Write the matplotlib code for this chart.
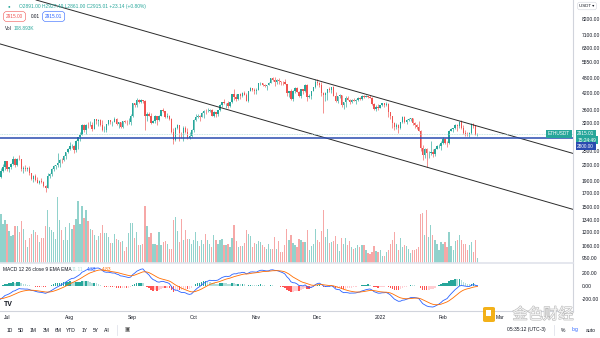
import numpy as np
import pandas as pd
import matplotlib
matplotlib.use("Agg")
import matplotlib.pyplot as plt
import matplotlib.dates as mdates
import matplotlib.patheffects as pe
from matplotlib.ticker import FixedLocator, FuncFormatter, NullLocator
from matplotlib.patches import FancyBboxPatch, Rectangle
from matplotlib.lines import Line2D

plt.rcParams['font.family'] = ['Liberation Sans', 'DejaVu Sans']

# ETHUSDT daily, 2021-06-27 .. 2022-02-18
start_date = "2021-06-27"
# closes before the visible range, only used to warm up the MACD (2021-05-01 .. 06-26)
warmup_closes = [2945, 2950, 3431, 3240, 3522, 3490, 3484, 3903, 3928, 3950,
                 4168, 3785, 3715, 4079, 3642, 3587, 3282, 3381, 2461, 2784,
                 2433, 2296, 2109, 2643, 2706, 2888, 2736, 2421, 2279, 2387,
                 2707,
                 2634, 2707, 2855, 2689, 2630, 2714, 2593, 2516, 2609, 2472,
                 2354, 2372, 2508, 2582, 2551, 2368, 2373, 2229, 2178, 2247,
                 1889, 1874, 1968, 1989, 1813, 1829]

closes = [1979, 2085, 2161, 2275,
          # Jul
          2112, 2151, 2226, 2322, 2197, 2323, 2318, 2116, 2146, 2112,
          2140, 2039, 1940, 1995, 1914, 1876, 1897, 1893, 1820, 1786,
          1992, 2026, 2122, 2187, 2190, 2234, 2299, 2298, 2383, 2461,
          2536,
          # Aug
          2606, 2606, 2507, 2723, 2827, 2890, 3157, 3012, 3163, 3140,
          3164, 3045, 3322, 3265, 3308, 3147, 3013, 3017, 3181, 3287,
          3224, 3240, 3321, 3172, 3227, 3097, 3271, 3243, 3225, 3227,
          3431,
          # Sep
          3832, 3790, 3938, 3887, 3953, 3926, 3429, 3494, 3427, 3211,
          3270, 3408, 3286, 3427, 3610, 3570, 3399, 3433, 3329, 2957,
          2765, 3077, 3152, 2932, 2925, 3063, 2947, 2807, 2850, 3001,
          # Oct
          3307, 3391, 3418, 3382, 3516, 3586, 3561, 3577, 3617, 3416,
          3541, 3489, 3605, 3788, 3866, 3830, 3847, 3745, 3876, 4156,
          4055, 3971, 4169, 4084, 4218, 4131, 3924, 4289, 4417, 4323,
          4288,
          # Nov
          4323, 4586, 4604, 4531, 4476, 4517, 4611, 4807, 4732, 4636,
          4725, 4667, 4646, 4624, 4556, 4217, 4293, 3997, 4298, 4420,
          4249, 4079, 4349, 4274, 4522, 4040, 4095, 4296, 4446, 4631,
          # Dec
          4587, 4516, 4220, 4120, 4198, 4354, 4309, 4434, 4112, 3907,
          4083, 4134, 3785, 3862, 4019, 3962, 3881, 3959, 3923, 3936,
          4018, 3982, 4109, 4047, 4094, 4066, 4038, 3797, 3628, 3711,
          3676,
          # Jan
          3766, 3829, 3762, 3795, 3536, 3414, 3196, 3087, 3156, 3081,
          3237, 3373, 3241, 3306, 3327, 3351, 3211, 3157, 3083, 2993,
          2559, 2404, 2537, 2440, 2458, 2461, 2422, 2549, 2600, 2604,
          2687,
          # Feb
          2789, 2682, 2674, 2987, 3027, 3060, 3144, 3124, 3241, 3077,
          2925, 2918, 2883, 2929, 3185, 3123, 2891, 2915.01]

highs = [1995, 2135, 2210, 2282,
         2280, 2165, 2240, 2385, 2330, 2350, 2410, 2320, 2185, 2190,
         2150, 2170, 2045, 2010, 2035, 1975, 1915, 1955, 1900, 1835,
         2040, 2045, 2130, 2195, 2195, 2445, 2320, 2345, 2400, 2470,
         2550,
         2700, 2665, 2630, 2760, 2840, 2950, 3170, 3185, 3180, 3230,
         3275, 3230, 3330, 3330, 3330, 3335, 3290, 3125, 3185, 3300,
         3290, 3270, 3375, 3355, 3250, 3245, 3280, 3290, 3285, 3345,
         3470,
         3840, 3840, 4025, 3975, 3975, 3960, 3950, 3555, 3550, 3500,
         3290, 3440, 3405, 3450, 3615, 3675, 3590, 3500, 3445, 3345,
         3075, 3100, 3175, 3160, 2965, 3110, 3120, 3060, 2955, 3045,
         3335, 3470, 3490, 3440, 3545, 3610, 3645, 3670, 3630, 3625,
         3580, 3545, 3615, 3805, 3890, 3970, 3855, 3900, 3880, 4185,
         4375, 4170, 4185, 4200, 4240, 4300, 4210, 4300, 4460, 4420,
         4400,
         4385, 4600, 4665, 4610, 4570, 4530, 4630, 4825, 4840, 4870,
         4780, 4810, 4700, 4690, 4770, 4560, 4300, 4345, 4310, 4440,
         4450, 4285, 4380, 4370, 4555, 4550, 4180, 4300, 4460, 4780,
         4780, 4640, 4650, 4240, 4230, 4360, 4430, 4450, 4470, 4230,
         4100, 4150, 4130, 3880, 4100, 4110, 3990, 3990, 4030, 3970,
         4040, 4040, 4140, 4140, 4130, 4100, 4130, 4045, 3830, 3770,
         3815,
         3770, 3855, 3840, 3880, 3850, 3540, 3420, 3240, 3210, 3170,
         3250, 3410, 3410, 3330, 3370, 3365, 3355, 3225, 3170, 3275,
         3025, 2620, 2550, 2560, 2500, 2720, 2535, 2560, 2625, 2650,
         2720,
         2820, 2800, 2720, 3000, 3075, 3070, 3190, 3175, 3260, 3285,
         3145, 3000, 2960, 2950, 3195, 3200, 3160, 2927.49]

lows = [1810, 1951, 2060, 2100,
        2090, 2060, 2120, 2200, 2160, 2185, 2300, 2080, 2050, 2090,
        2085, 2005, 1925, 1890, 1900, 1860, 1855, 1860, 1805, 1718,
        1780, 1955, 1990, 2090, 2110, 2160, 2150, 2230, 2270, 2320,
        2440,
        2515, 2560, 2450, 2480, 2530, 2730, 2875, 2950, 2900, 3055,
        3135, 2980, 3030, 3180, 3120, 3120, 2990, 2950, 2950, 3150,
        3185, 3110, 3230, 3150, 3080, 3060, 3060, 3200, 3160, 3190,
        3155,
        3385, 3720, 3715, 3830, 3855, 3840, 3010, 3270, 3410, 3175,
        3200, 3220, 3145, 3270, 3420, 3530, 3360, 3365, 3300, 2920,
        2650, 2735, 3030, 2740, 2800, 2740, 2930, 2790, 2785, 2840,
        2970, 3270, 3345, 3280, 3375, 3370, 3480, 3530, 3550, 3405,
        3385, 3390, 3420, 3580, 3700, 3800, 3675, 3690, 3705, 3845,
        3950, 3925, 3945, 3975, 4050, 4120, 3900, 3880, 4265, 4270,
        4150,
        4150, 4320, 4505, 4470, 4430, 4330, 4510, 4610, 4700, 4470,
        4580, 4580, 4520, 4540, 4550, 4110, 4060, 3960, 3900, 4220,
        4230, 4060, 4020, 4180, 4250, 3920, 4030, 3970, 4280, 4420,
        4530, 4450, 4100, 3500, 3920, 3950, 4250, 4210, 4090, 3890,
        3850, 4020, 3700, 3650, 3700, 3950, 3800, 3840, 3900, 3810,
        3920, 3950, 3950, 4020, 4040, 4010, 4030, 3770, 3610, 3590,
        3620,
        3675, 3725, 3700, 3730, 3400, 3320, 3060, 3000, 3050, 2930,
        3050, 3220, 3200, 3185, 3270, 3270, 3160, 3080, 3050, 2980,
        2500, 2300, 2330, 2160, 2350, 2400, 2360, 2375, 2540, 2550,
        2520,
        2660, 2660, 2575, 2660, 2980, 2950, 3030, 2990, 3080, 3050,
        2900, 2850, 2860, 2830, 2910, 3055, 2870, 2861]

# volume in thousand ETH
volumes = [726, 1078, 858, 946, 858, 704, 594, 616, 814, 814,
           682, 924, 748, 506, 352, 550, 638, 726, 682, 616,
           462, 550, 550, 814, 1166, 792, 726, 682, 528, 1452,
           946, 726, 506, 792, 506, 880, 748, 836, 968, 1364,
           858, 1254, 990, 1166, 924, 748, 726, 616, 506, 594,
           660, 836, 660, 660, 572, 440, 440, 638, 528, 506,
           462, 484, 264, 352, 660, 880, 880, 550, 682, 396,
           396, 418, 1254, 814, 572,
           660, 418, 418, 396, 682, 396, 462, 484, 418, 308,
           308, 946, 1012, 704, 462, 968, 506, 726, 528, 528,
           418, 506, 682, 484, 374, 506, 418, 638, 506, 418,
           352, 616, 506, 418, 506, 528, 396, 396, 418,
           352, 550, 836, 484, 352, 374, 374, 440, 726, 638,
           594, 352, 440, 418, 484, 462, 396, 352, 308, 418,
           308, 308, 572, 308, 484, 242, 242, 396, 748, 506,
           616, 440, 396, 352, 528,
           506, 462, 462, 726, 286, 374, 418, 748, 506, 462,
           704, 1166, 572, 748, 440, 462, 484, 594, 418, 264,
           550, 418, 550, 396, 484, 352, 308, 330, 396, 352,
           396, 396, 286, 220, 198, 242, 374, 264, 242, 286,
           154, 154, 242, 286, 418, 506, 682, 418, 286, 550,
           352, 396, 374, 308, 220, 286, 286, 308, 352,
           1078, 1100, 616, 1166, 572, 836, 616, 506, 418, 286,
           462, 418, 462, 352, 682,
           374, 286, 484, 506, 616, 506, 418, 418, 286, 396,
           462, 242, 506, 108.893]

month_starts = ["2021-07-01", "2021-08-01", "2021-09-01", "2021-10-01", "2021-11-01",
                "2021-12-01", "2022-01-01", "2022-02-01", "2022-03-01"]
month_labels = ["Jul", "Aug", "Sep", "Oct", "Nov", "Dec", "2022", "Feb", "Mar"]
price_ticks = [8200, 7100, 6300, 5550, 4800, 4200, 3600, 3200, 2500, 2200,
               1900, 1700, 1500, 1340, 1200, 1060, 950]
macd_ticks = [200, 0, -200]
level_price = 2800
last_price = 2915.01
upper_anchor_dates = ["2021-08-01", "2022-02-01"]
upper_anchor_prices = [8920, 3410]
lower_anchor_dates = ["2021-07-01", "2022-02-01"]
lower_anchor_prices = [6430, 2066]

W, H = 600, 338
up_c, dn_c = "#26a69a", "#ef5350"
txt_c = "#131722"

dates = pd.date_range(start_date, periods=len(closes), freq="D")
x = mdates.date2num(dates)
opens = [warmup_closes[-1]] + closes[:-1]   # open = previous close (24h market)
o = np.array(opens, float)
c = np.array(closes, float)
hi = np.array(highs, float)
lo = np.array(lows, float)
up = c >= o

# MACD 12 26 9
allc = pd.Series(warmup_closes + closes, dtype=float)
macd = allc.ewm(span=12, adjust=False).mean() - allc.ewm(span=26, adjust=False).mean()
sig = macd.ewm(span=9, adjust=False).mean()
hist = (macd - sig).values[-len(closes):]
macd = macd.values[-len(closes):]
sig = sig.values[-len(closes):]


def rect(x0, y0, x1, y1):
    return [x0 / W, 1 - y1 / H, (x1 - x0) / W, (y1 - y0) / H]


fig = plt.figure(figsize=(W / 100, H / 100), dpi=100)
ax_vol = fig.add_axes(rect(0, 0, 573, 263))
ax = fig.add_axes(rect(0, 0, 573, 263), sharex=ax_vol)
axm = fig.add_axes(rect(0, 263, 573, 311), sharex=ax_vol)
ax_vol.set_zorder(1)
ax.set_zorder(2)
ax.patch.set_visible(False)

x0 = mdates.date2num(pd.Timestamp("2021-07-01"))
ax.set_xlim(x0 - 3.45, x0 + 279.1)

# volume
vcol = [(0.149, 0.651, 0.604, 0.5) if u else (0.937, 0.325, 0.314, 0.5) for u in up]
ax_vol.bar(x, volumes, width=0.62, color=vcol, linewidth=0)
ax_vol.set_ylim(0, 263 * 22)
ax_vol.axis("off")

# candles
ax.set_yscale("log")
ax.set_ylim(908, 9730)
cols = np.where(up, up_c, dn_c)
ax.vlines(x, lo, hi, colors=cols, linewidth=0.45)
ax.bar(x, np.maximum(np.abs(c - o), c * 0.002), bottom=np.minimum(o, c),
       width=0.68, color=cols, linewidth=0)

# channel lines and level
ax.axline((mdates.datestr2num(upper_anchor_dates[0]), upper_anchor_prices[0]),
          (mdates.datestr2num(upper_anchor_dates[1]), upper_anchor_prices[1]),
          color="#2b2b2b", linewidth=0.7)
ax.axline((mdates.datestr2num(lower_anchor_dates[0]), lower_anchor_prices[0]),
          (mdates.datestr2num(lower_anchor_dates[1]), lower_anchor_prices[1]),
          color="#2b2b2b", linewidth=0.7)
ax.axhline(last_price, color="#b2dfdb", linewidth=0.6, linestyle=(0, (1, 1)))
ax.axhline(level_price, color="#2a4bb0", linewidth=1.1)

ax.yaxis.set_major_locator(FixedLocator(price_ticks))
ax.yaxis.set_minor_locator(NullLocator())
ax.yaxis.set_major_formatter(FuncFormatter(lambda v, p: f"{v:.2f}"))
ax.tick_params(axis="y", left=False, labelleft=False, right=False, labelright=True,
               pad=3, labelsize=3.6, labelcolor=txt_c)
ax.tick_params(axis="x", bottom=False, labelbottom=False)
for s in ["top", "left"]:
    ax.spines[s].set_visible(False)
ax.spines["right"].set_color("#d1d4dc")
ax.spines["right"].set_linewidth(0.8)
ax.spines["bottom"].set_color("#e0e3eb")
ax.spines["bottom"].set_linewidth(1.2)

# price badges
ytr = ax.get_yaxis_transform()
bkw = dict(fontsize=3.4, color="white", va="center", annotation_clip=False)
ax.annotate("ETHUSDT", (1.0, last_price), xycoords=ytr, xytext=(-2, 0), textcoords="offset points",
            ha="right", bbox=dict(boxstyle="square,pad=0.35", fc=up_c, ec="none"), **bkw)
ax.annotate("2915.01", (1.0, last_price), xycoords=ytr, xytext=(3, 0), textcoords="offset points",
            ha="left", bbox=dict(boxstyle="square,pad=0.35", fc=up_c, ec="none"), **bkw)
ax.annotate("15:24:49", (1.0, last_price), xycoords=ytr, xytext=(3, -4.8), textcoords="offset points",
            ha="left", bbox=dict(boxstyle="square,pad=0.35", fc=up_c, ec="none"), **bkw)
ax.annotate("2800.00", (1.0, level_price), xycoords=ytr, xytext=(3, -5.8), textcoords="offset points",
            ha="left", bbox=dict(boxstyle="square,pad=0.35", fc="#2a4bb0", ec="none"), **bkw)

# MACD panel
prev = np.concatenate([[hist[0]], hist[:-1]])
hcol = np.where(hist >= 0, np.where(hist > prev, "#26a69a", "#b2dfdb"),
                np.where(hist < prev, "#ff5252", "#ffcdd2"))
axm.bar(x, hist, width=0.7, color=hcol, linewidth=0)
axm.plot(x, macd, color="#2962ff", linewidth=0.6)
axm.plot(x, sig, color="#ff6d00", linewidth=0.6)
axm.set_ylim(-385, 354)
axm.yaxis.set_major_locator(FixedLocator(macd_ticks))
axm.yaxis.set_major_formatter(FuncFormatter(lambda v, p: f"{v:.2f}"))
axm.tick_params(axis="y", left=False, labelleft=False, right=False, labelright=True,
                pad=3, labelsize=3.6, labelcolor=txt_c)
axm.set_xticks(mdates.datestr2num(month_starts))
axm.set_xticklabels(month_labels)
axm.tick_params(axis="x", length=0, pad=3, labelsize=3.6, labelcolor=txt_c)
for s in ["top", "left"]:
    axm.spines[s].set_visible(False)
axm.spines["right"].set_color("#d1d4dc")
axm.spines["right"].set_linewidth(0.8)
axm.spines["bottom"].set_color("#d1d4dc")
axm.spines["bottom"].set_linewidth(0.8)


def ft(px, py, s, **kw):
    kw.setdefault("fontsize", 3.6)
    kw.setdefault("color", txt_c)
    kw.setdefault("va", "center")
    return fig.text(px / W, 1 - py / H, s, **kw)


# legend texts
ft(9, 6.5, "●", color=up_c, fontsize=3.2, ha="center")
ft(19, 6.5, "O2891.00 H2927.49 L2861.00 C2915.01 +23.14 (+0.80%)", color=up_c, fontsize=3.5)
ft(6, 16.5, "2915.00", color=dn_c, fontsize=3.4,
   bbox=dict(boxstyle="round,pad=0.5,rounding_size=0.6", fc="white", ec=dn_c, lw=0.4))
ft(31, 16.5, "0.01", fontsize=3.4)
ft(45, 16.5, "2915.01", color="#2962ff", fontsize=3.4,
   bbox=dict(boxstyle="round,pad=0.5,rounding_size=0.6", fc="white", ec="#2962ff", lw=0.4))
ft(5, 29, "Vol", fontsize=3.4)
ft(14, 29, "108.893K", color=up_c, fontsize=3.4)
ft(587, 6, "USDT ▾", fontsize=3.2, ha="center",
   bbox=dict(boxstyle="round,pad=0.4,rounding_size=0.5", fc="white", ec="#d1d4dc", lw=0.4))

ft(3, 269.5, "MACD 12 26 close 9 EMA EMA", fontsize=3.5)
ft(72, 269.5, "11.11", color="#b2dfdb", fontsize=3.5)
ft(87, 269.5, "4.33", color="#2962ff", fontsize=3.5)
ft(102, 269.5, "4.83", color="#ff6d00", fontsize=3.5)
ft(8, 304, "TV", fontsize=5, fontweight="bold", ha="center")

# bottom toolbar
for px, s in zip([7, 18, 30, 43, 55, 66, 82, 93, 104],
                 ["1D", "5D", "1M", "3M", "6M", "YTD", "1Y", "5Y", "All"]):
    ft(px, 330, s, fontsize=3.6)
ft(127, 330, "▣", fontsize=4, ha="center", color="#555555")
ft(507, 330, "05:35:12 (UTC-3)", fontsize=3.6)
ft(563, 330, "%", fontsize=3.6, ha="center")
ft(575, 330, "log", fontsize=3.6, ha="center", color="#2962ff")
ft(591, 330, "auto", fontsize=3.6, ha="center")
for px in [117, 554]:
    fig.add_artist(Line2D([px / W, px / W], [1 - 325 / H, 1 - 335 / H], color="#e0e3eb", lw=0.6))

# watermark
fig.add_artist(FancyBboxPatch((483 / W, 1 - 322 / H), 12 / W, 15 / H,
                              boxstyle="round,pad=0,rounding_size=0.004",
                              transform=fig.transFigure, fc="#f2a900", ec="none", alpha=0.9))
fig.add_artist(Rectangle((486 / W, 1 - 316 / H), 5 / W, 6 / H,
                         transform=fig.transFigure, fc="white", ec="none"))
ft(543, 314.5, "金色财经", fontsize=11, ha="center", color="#f4f4f4",
   family=["Noto Sans CJK SC", "DejaVu Sans"],
   path_effects=[pe.withStroke(linewidth=0.8, foreground="#b8b8b8")])

fig.savefig("out.png", dpi=100, facecolor="white")
